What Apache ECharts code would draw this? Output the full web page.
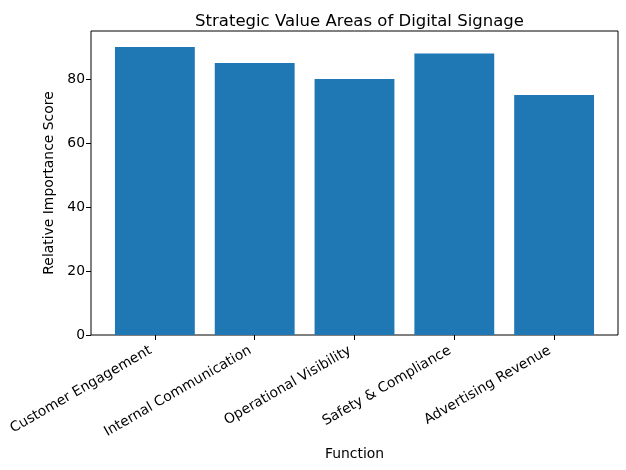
<!DOCTYPE html>
<html><head><meta charset="utf-8">
<script src="https://cdn.jsdelivr.net/npm/echarts@6/dist/echarts.min.js"></script>
<style>html,body{margin:0;padding:0;background:#fff}#c{width:626px;height:470px}</style>
</head><body><div id="c"></div>
<script>
const categories = ["Customer Engagement","Internal Communication","Operational Visibility","Safety & Compliance","Advertising Revenue"];
const scores = [90, 85, 80, 88, 75];
const yTicks = {min: 0, max: 95, interval: 20};

const F = 'DejaVu Sans';
const chart = echarts.init(document.getElementById('c'), null, {renderer: 'canvas'});
const L = 91, R = 8, T = 31, B = 135;
const plotW = 626 - L - R;
const unit = plotW / 5.28;
const inset = 0.14 * unit;
chart.setOption({
  animation: false,
  title: {text: 'Strategic Value Areas of Digital Signage', left: L + plotW/2, top: 8, textAlign: 'center',
    textStyle: {fontFamily: F, fontSize: 16.5, fontWeight: 'normal', color: '#000'}},
  grid: [
    {left: L + inset, right: R + inset, top: T, bottom: B, containLabel: false},
    {left: L, right: R, top: T, bottom: B, show: true, borderColor: '#000', borderWidth: 1, backgroundColor: 'transparent'}
  ],
  xAxis: [
    {type: 'category', gridIndex: 0, data: categories, boundaryGap: true,
     axisLine: {show: false},
     axisTick: {show: true, alignWithLabel: true, length: 5, lineStyle: {color: '#000'}},
     axisLabel: {rotate: 30, fontFamily: F, fontSize: 13.9, color: '#000', margin: 12, padding: [0, 5, 0, 0], interval: 0},
     name: 'Function', nameLocation: 'middle', nameGap: 112,
     nameTextStyle: {fontFamily: F, fontSize: 13.9, color: '#000'}},
    {type: 'value', gridIndex: 1, show: false}
  ],
  yAxis: [
    {type: 'value', gridIndex: 0, min: yTicks.min, max: yTicks.max, interval: yTicks.interval, offset: inset,
     splitLine: {show: false},
     axisLine: {show: false},
     axisTick: {show: true, length: 5, lineStyle: {color: '#000'}},
     axisLabel: {fontFamily: F, fontSize: 13.9, color: '#000', margin: 6, showMaxLabel: false},
     name: 'Relative Importance Score', nameLocation: 'middle', nameGap: 31, nameRotate: 90,
     nameTextStyle: {fontFamily: F, fontSize: 13.9, color: '#000'}},
    {type: 'value', gridIndex: 1, show: false}
  ],
  series: [{type: 'bar', xAxisIndex: 0, yAxisIndex: 0, data: scores, barWidth: '80%',
    itemStyle: {color: '#1f77b4'}}]
});
</script></body></html>
